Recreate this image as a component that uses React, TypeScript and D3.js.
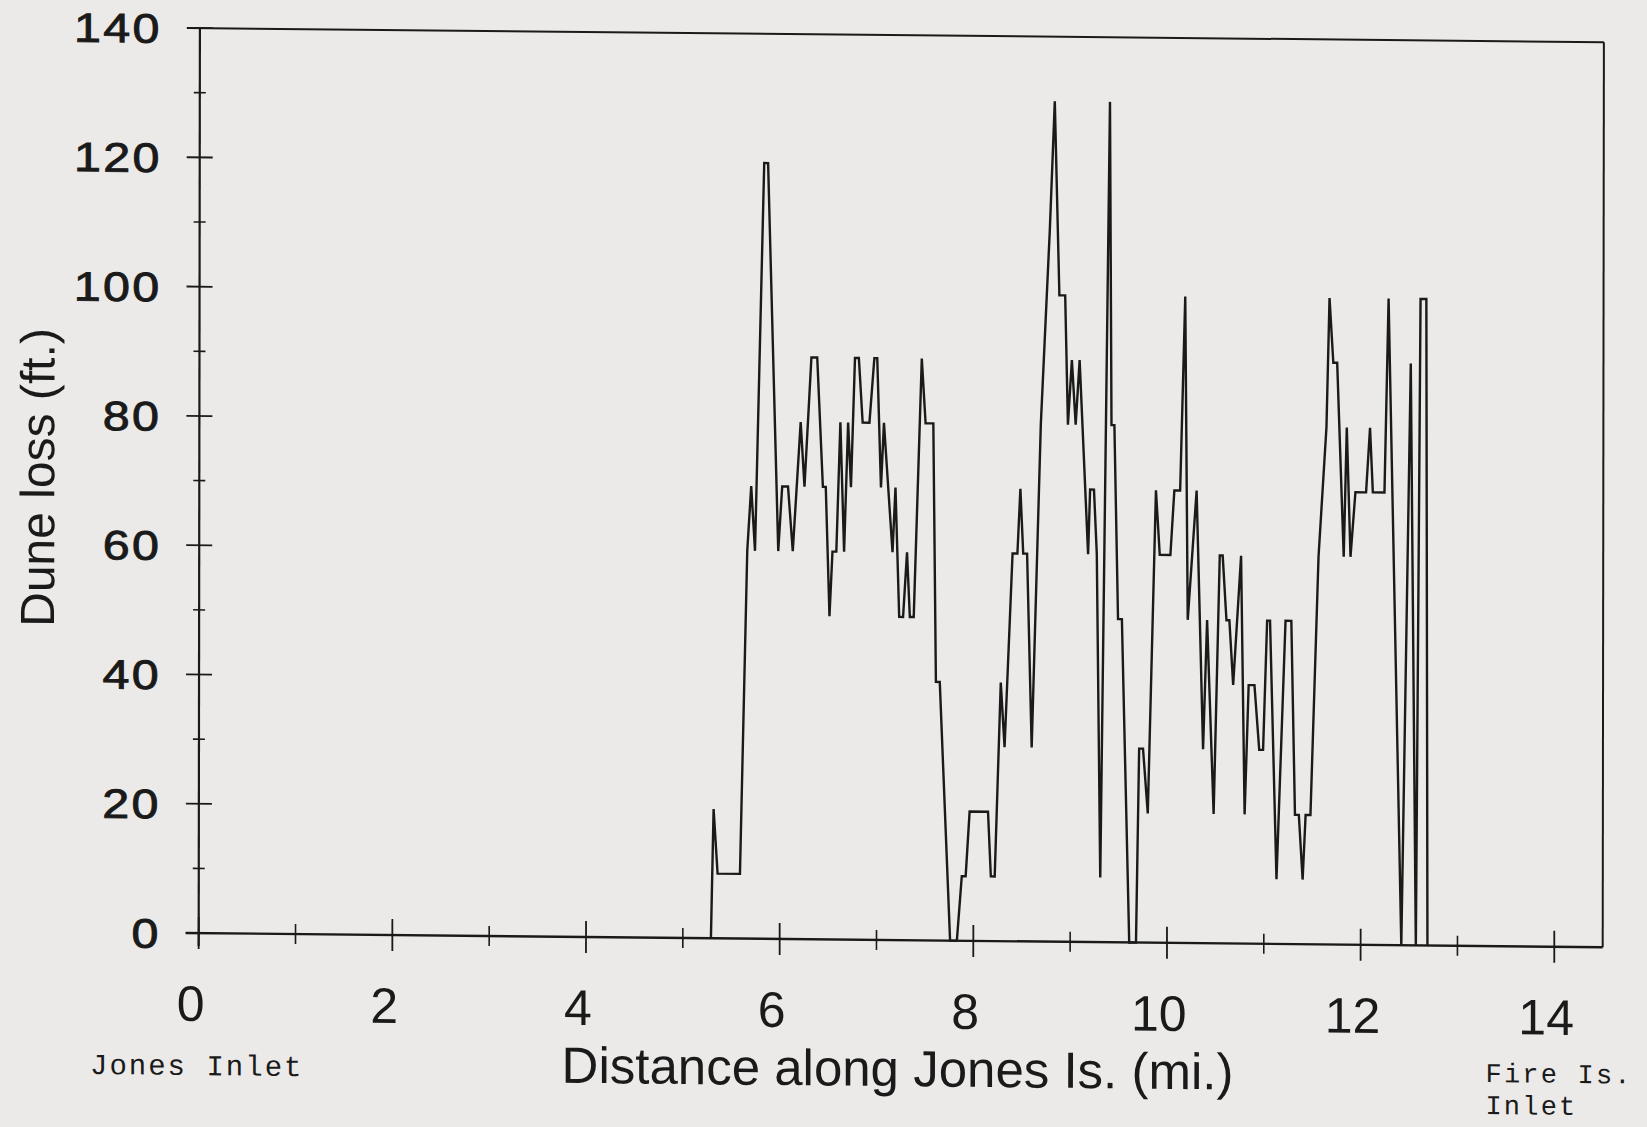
import React from 'react';
import * as d3 from 'd3';

// Distance along Jones Is. (mi.)
const miles: number[] = [
  5.29, 5.316, 5.358, 5.589, 5.66, 5.70, 5.74, 5.83, 5.87, 5.98,
  6.02, 6.08, 6.13, 6.21, 6.25, 6.32, 6.38, 6.44, 6.47, 6.51,
  6.54, 6.58, 6.62, 6.66, 6.70, 6.73, 6.77, 6.81, 6.85, 6.92,
  6.97, 7.00, 7.04, 7.07, 7.16, 7.19, 7.23, 7.27, 7.31, 7.34,
  7.38, 7.46, 7.50, 7.58, 7.61, 7.65, 7.76, 7.83, 7.88, 7.92,
  7.96, 8.15, 8.18, 8.22, 8.28, 8.32, 8.40, 8.45, 8.48, 8.51,
  8.55, 8.60, 8.69, 8.78, 8.83, 8.88, 8.94, 8.97, 9.01, 9.05,
  9.09, 9.18, 9.20, 9.24, 9.27, 9.31, 9.40, 9.42, 9.45, 9.49,
  9.53, 9.61, 9.68, 9.71, 9.75, 9.80, 9.88, 9.92, 10.03, 10.07,
  10.13, 10.18, 10.21, 10.30, 10.37, 10.41, 10.48, 10.54, 10.57, 10.61,
  10.64, 10.68, 10.76, 10.80, 10.84, 10.90, 10.95, 10.99, 11.03, 11.06,
  11.13, 11.22, 11.28, 11.32, 11.36, 11.40, 11.43, 11.48, 11.56, 11.64,
  11.67, 11.71, 11.75, 11.82, 11.85, 11.89, 11.94, 12.05, 12.09, 12.12,
  12.24, 12.28, 12.35, 12.42, 12.51, 12.57, 12.61, 12.67, 12.69,
];

// Dune loss (ft.)
const duneLoss: number[] = [
  0, 20, 10, 10, 60, 70, 60, 120, 120, 60,
  70, 70, 60, 80, 70, 90, 90, 70, 70, 50,
  60, 60, 80, 60, 80, 70, 90, 90, 80, 80,
  90, 90, 70, 80, 60, 70, 50, 50, 60, 50,
  50, 90, 80, 80, 40, 40, 0, 0, 10, 10,
  20, 20, 10, 10, 40, 30, 60, 60, 70, 60,
  60, 30, 80, 110, 130, 100, 100, 80, 90, 80,
  90, 60, 70, 70, 60, 10, 130, 80, 80, 50,
  50, 0, 0, 30, 30, 20, 70, 60, 60, 70,
  70, 100, 50, 70, 30, 50, 20, 60, 60, 50,
  50, 40, 60, 20, 40, 40, 30, 30, 50, 50,
  10, 50, 50, 20, 20, 10, 20, 20, 60, 80,
  100, 90, 90, 60, 80, 60, 70, 70, 80, 70,
  70, 100, 50, 0, 90, 0, 100, 100, 0,
];

const yTicks: number[] = [0, 20, 40, 60, 80, 100, 120, 140];
const yMinorTicks: number[] = [10, 30, 50, 70, 90, 110, 130];
const xTicks: number[] = [0, 2, 4, 6, 8, 10, 12, 14];
const xMinorTicks: number[] = [1, 3, 5, 7, 9, 11, 13];

const xTitle = 'Distance along Jones Is. (mi.)';
const yTitle = 'Dune loss (ft.)';
const leftNote = 'Jones Inlet';
const rightNote1 = 'Fire Is.';
const rightNote2 = 'Inlet';

const W = 1404;
const H = 905;
const INK = '#1a1a1a';
const SANS = '"Liberation Sans", Arial, Helvetica, sans-serif';
const MONO = '"Liberation Mono", "Courier New", monospace';

export default function App() {
  const x = d3.scaleLinear().domain([0, 14.5]).range([0, W]);
  const y = d3.scaleLinear().domain([0, 140]).range([H, 0]);
  const line = d3
    .line<number>()
    .x((_, i) => x(miles[i]))
    .y((d) => y(d));
  const path = line(duneLoss) || '';

  return (
    <svg
      width={1647}
      height={1127}
      style={{ position: 'absolute', left: 0, top: 0, background: '#ebeae8' }}
    >
      <rect x={0} y={0} width={1647} height={1127} fill="#ebeae8" />
      <g transform="matrix(1, 0.01008, -0.00133, 1, 199.9, 28.08)">
        {/* frame */}
        <line x1={-13} y1={0} x2={W} y2={0} stroke={INK} strokeWidth={2} />
        <line x1={W} y1={0} x2={W} y2={H} stroke={INK} strokeWidth={2} />
        {/* axes */}
        <line x1={0} y1={0} x2={0} y2={H + 13} stroke={INK} strokeWidth={2.2} />
        <line x1={-13} y1={H} x2={W} y2={H} stroke={INK} strokeWidth={2.4} />

        {/* y ticks */}
        {yTicks.map((t) => (
          <line key={'ym' + t} x1={-13} x2={13} y1={y(t)} y2={y(t)} stroke={INK} strokeWidth={1.8} />
        ))}
        {yMinorTicks.map((t) => (
          <line key={'yn' + t} x1={-6} x2={6} y1={y(t)} y2={y(t)} stroke={INK} strokeWidth={1.6} />
        ))}
        {yTicks.map((t) => (
          <g key={'yl' + t} transform={`translate(${-38}, ${y(t) + 15}) scale(1.18, 1)`}>
            <text
              textAnchor="end"
              fontFamily={SANS}
              fontSize={41}
              letterSpacing={2}
              fill={INK}
              stroke={INK}
              strokeWidth={0.9}
            >
              {t}
            </text>
          </g>
        ))}

        {/* x ticks */}
        {xTicks.map((t) => (
          <line key={'xm' + t} x1={x(t)} x2={x(t)} y1={H - 16} y2={H + 16} stroke={INK} strokeWidth={1.8} />
        ))}
        {xMinorTicks.map((t) => (
          <line key={'xn' + t} x1={x(t)} x2={x(t)} y1={H - 10} y2={H + 10} stroke={INK} strokeWidth={1.6} />
        ))}
        {xTicks.map((t) => (
          <text
            key={'xl' + t}
            x={x(t) - 8}
            y={H + 88}
            textAnchor="middle"
            fontFamily={SANS}
            fontSize={50}
            fill={INK}
          >
            {t}
          </text>
        ))}

        {/* data */}
        <path d={path} fill="none" stroke={INK} strokeWidth={2.4} strokeLinejoin="miter" />

        {/* titles */}
        <text
          x={699}
          y={H + 146}
          textAnchor="middle"
          fontFamily={SANS}
          fontSize={51}
          fill={INK}
        >
          {xTitle}
        </text>
        <text
          transform={`translate(${-145}, ${451}) rotate(-90)`}
          textAnchor="middle"
          fontFamily={SANS}
          fontSize={48}
          fill={INK}
        >
          {yTitle}
        </text>

        {/* end notes */}
        <text x={-108.5} y={H + 142} fontFamily={MONO} fontSize={29} letterSpacing={2} fill={INK}>
          {leftNote}
        </text>
        <text x={1287} y={H + 136} fontFamily={MONO} fontSize={27} letterSpacing={2.2} fill={INK}>
          {rightNote1}
        </text>
        <text x={1287} y={H + 168} fontFamily={MONO} fontSize={27} letterSpacing={2.2} fill={INK}>
          {rightNote2}
        </text>
      </g>
    </svg>
  );
}
